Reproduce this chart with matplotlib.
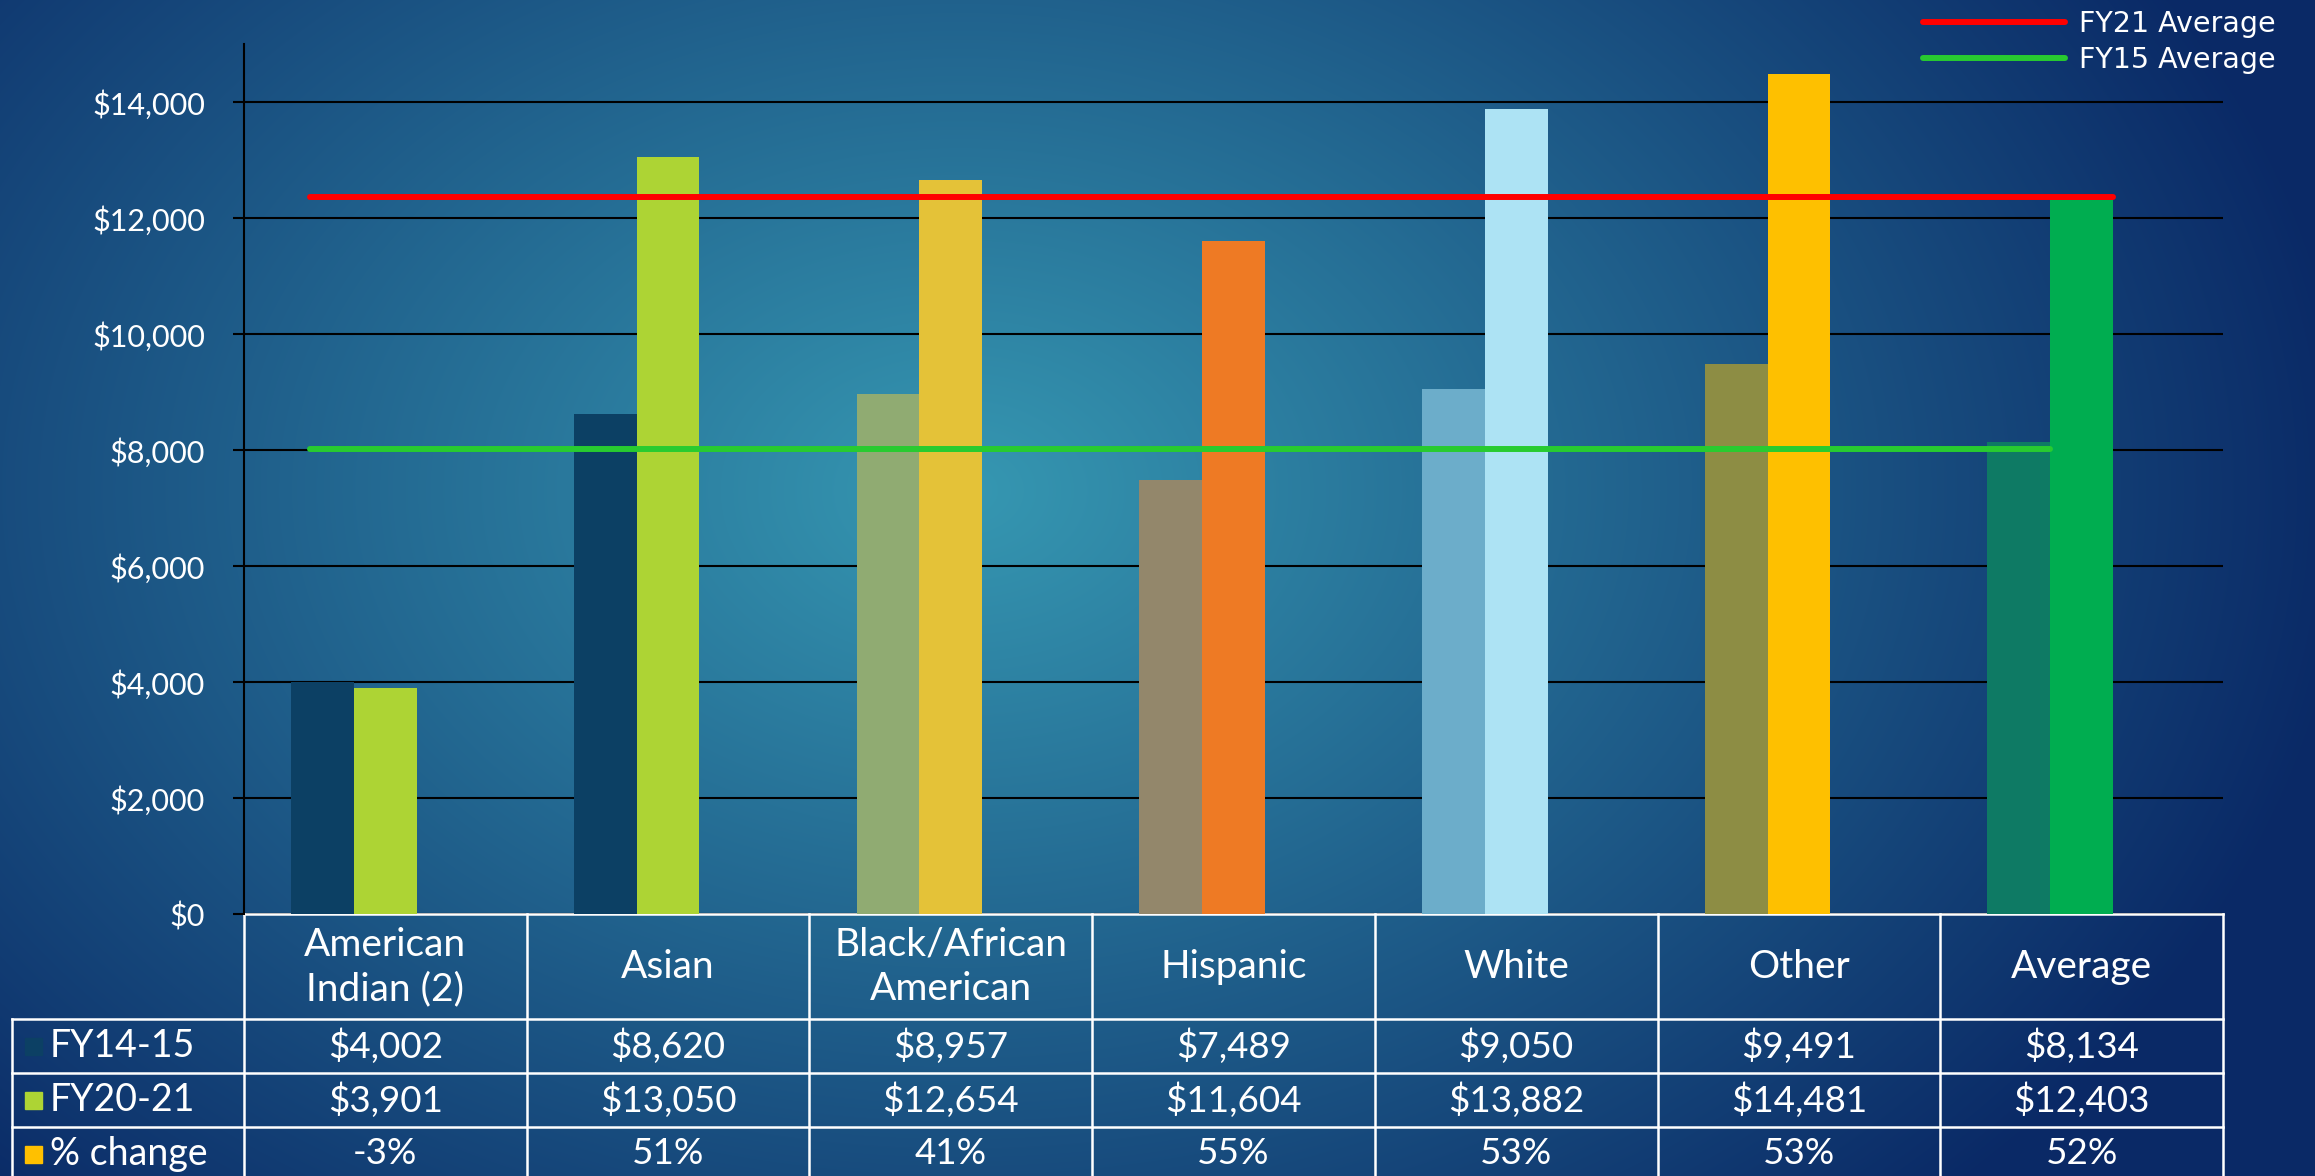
import numpy as np
import matplotlib
matplotlib.use("Agg")
import matplotlib.pyplot as plt
import matplotlib.transforms as mtransforms
from matplotlib.lines import Line2D
from matplotlib.colors import to_rgb

# data
categories = ["American\nIndian (2)", "Asian", "Black/African\nAmerican", "Hispanic",
              "White", "Other", "Average"]
fy15 = [4002, 8620, 8957, 7489, 9050, 9491, 8134]
fy21 = [3901, 13050, 12654, 11604, 13882, 14481, 12320]
pct_change = [-3, 51, 41, 55, 53, 53, 52]
fy15_labels = ["$4,002", "$8,620", "$8,957", "$7,489", "$9,050", "$9,491", "$8,134"]
fy21_labels = ["$3,901", "$13,050", "$12,654", "$11,604", "$13,882", "$14,481", "$12,403"]
pct_labels = ["-3%", "51%", "41%", "55%", "53%", "53%", "52%"]
row_names = ["FY14-15", "FY20-21", "% change"]
fy21_avg = 12365
fy15_avg = 8025

fy15_colors = ["#0C4064", "#0C4064", "#90AB72", "#93876B", "#6CADCA", "#8D8D44", "#0E7A64"]
fy21_colors = ["#ADD434", "#ADD434", "#E4C238", "#EE7A24", "#ADE3F4", "#FEC000", "#00AD50"]
row_colors = ["#0C4064", "#ADD434", "#FFC000"]

W, H = 2315, 1176
fig = plt.figure(figsize=(W / 100, H / 100), dpi=100)
plt.rcParams['font.family'] = ['Lato', 'DejaVu Sans']

# background radial gradient
bg = fig.add_axes([0, 0, 1, 1], zorder=-10)
yy, xx = np.mgrid[0:H, 0:W]
t = np.sqrt(((xx - 960) / 1400.0) ** 2 + ((yy - 490) / 1000.0) ** 2)
t = np.clip(t, 0, 1)[..., None]
c0 = np.array(to_rgb("#3698B2"))
c1 = np.array(to_rgb("#0A2966"))
img = c0 * (1 - t) + c1 * t
bg.imshow(img, aspect="auto", extent=[0, W, H, 0])
bg.axis("off")

ax = fig.add_axes([244 / W, (H - 914) / H, (2223 - 244) / W, (914 - 44) / H])
ax.set_facecolor("none")

x = np.arange(len(categories))
w = 0.222
ax.bar(x - w, fy15, w, color=fy15_colors, zorder=3)
ax.bar(x, fy21, w, color=fy21_colors, zorder=3)
ax.bar(x + w, [p / 100 for p in pct_change], w, color="#FFC000", zorder=3)

# average lines
ax.hlines(fy21_avg, -0.267, x[-1] + w / 2, color="#FF0000", lw=4.3, zorder=4, capstyle="round")
ax.hlines(fy15_avg, -0.267, x[-1] - w / 2, color="#28CB30", lw=4.3, zorder=4, capstyle="round")

ax.set_xlim(-0.5, 6.5)
ax.set_ylim(0, 15000)
ax.set_yticks(np.arange(0, 15000, 2000))
ax.set_yticklabels(["${:,}".format(v) for v in range(0, 15000, 2000)])
ax.tick_params(axis="y", colors="black", labelcolor="white", labelsize=22,
               length=8, width=1.5, pad=20)
ax.set_xticks([])
ax.grid(axis="y", color="black", lw=1.5, zorder=1)
for s in ["top", "right", "bottom"]:
    ax.spines[s].set_visible(False)
ax.spines["left"].set_color("black")
ax.spines["left"].set_linewidth(1.5)

# legend
handles = [Line2D([], [], color="#FF0000", lw=4.3, solid_capstyle="round"),
           Line2D([], [], color="#28CB30", lw=4.3, solid_capstyle="round")]
fig.legend(handles, ["FY21 Average", "FY15 Average"], loc="upper right",
           bbox_to_anchor=(2290 / W, 1.004), frameon=False, handlelength=5,
           handletextpad=0.5, labelspacing=0.3, borderpad=0.0,
           prop={"family": "DejaVu Sans", "size": 20.5}, labelcolor="white")

# data table below the axes
tr = mtransforms.blended_transform_factory(ax.transData, fig.transFigure)
def fy(p):
    return 1 - p / H

lc = "white"
lw = 1.8
edges = np.arange(len(categories) + 1) - 0.5
for e in edges:
    ax.plot([e, e], [fy(914), fy(1190)], color=lc, lw=lw, transform=tr, clip_on=False)
ax.plot([edges[0], edges[-1]], [fy(914), fy(914)], color=lc, lw=lw, transform=tr, clip_on=False)
for p in [1019, 1073, 1127]:
    fig.add_artist(Line2D([12 / W, 2223 / W], [fy(p), fy(p)], color=lc, lw=lw))
fig.add_artist(Line2D([12 / W, 12 / W], [fy(1019), fy(1190)], color=lc, lw=lw))

for i, c in enumerate(categories):
    ax.text(i, fy(967), c, transform=tr, ha="center", va="center", color="white",
            fontsize=28, linespacing=1.3)

row_centers = [1046, 1100, 1154]
for r, (labels, name, col) in enumerate(zip([fy15_labels, fy21_labels, pct_labels],
                                            row_names, row_colors)):
    yc = fy(row_centers[r])
    for i, v in enumerate(labels):
        ax.text(i, yc, v, transform=tr, ha="center", va="center", color="white", fontsize=26.5)
    fig.text(50 / W, yc, name, ha="left", va="center", color="white", fontsize=27)
    fig.add_artist(plt.Rectangle((25 / W, yc - 9 / H), 17 / W, 17 / H, color=col,
                                 transform=fig.transFigure))

fig.savefig("out.png", dpi=100)
